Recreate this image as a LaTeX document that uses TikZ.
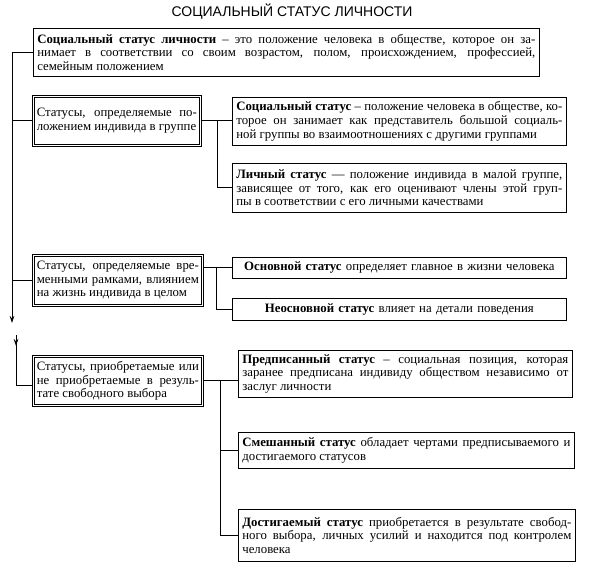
\documentclass[tikz,border=0pt]{standalone}
\usepackage{fontspec}
\setmainfont{Liberation Serif}
\newfontfamily\titlefont{Liberation Sans}
\usetikzlibrary{shadows,arrows.meta}
\newcommand\txtfont{\fontsize{12.8}{13.6}\selectfont\hyphenpenalty=10000\tolerance=9999\emergencystretch=20pt}
\begin{document}
\begin{tikzpicture}[x=1pt,y=-1pt,
  sbox/.style={draw, line width=0.7pt, fill=white, inner xsep=4pt, inner ysep=2pt,
    align=justify, font=\txtfont, anchor=north west,
    drop shadow={shadow xshift=0.9pt, shadow yshift=-0.9pt, fill=black, opacity=1}},
  dbox/.style={draw, double, double distance=1pt, line width=0.7pt, fill=white,
    inner xsep=3.5pt, inner ysep=2pt, align=justify, font=\txtfont, anchor=north west},
  link/.style={line width=0.8pt},
  arr/.style={link, -{Stealth[length=7pt,width=4.5pt]}},
  ttl/.style={font=\titlefont\fontsize{14}{16}\selectfont}
]
\useasboundingbox (0,0) rectangle (589,576);

\node[ttl] (title) at (292,12) {СОЦИАЛЬНЫЙ СТАТУС ЛИЧНОСТИ};

\node[sbox, text width=498, minimum height=48] (T) at (33,28)
 {\textbf{Социальный статус личности} -- это положение человека в обществе, которое он за-\linebreak{}нимает в соответствии со своим возрастом, полом, происхождением, профессией,\linebreak{} семейным положением};

\node[dbox, text width=160, minimum height=49] (A) at (33,96)
 {Статусы, определяемые по-\linebreak{}ложением индивида в группе};

\node[sbox, text width=326, minimum height=48] (B) at (232,97)
 {\textbf{Социальный статус} -- положение человека в обществе, ко-\linebreak{}торое он занимает как представитель большой социаль-\linebreak{}ной группы во взаимоотношениях с другими группами};

\node[sbox, text width=326, minimum height=49] (C) at (232,163)
 {\textbf{Личный статус} — положение индивида в малой группе,\linebreak{} зависящее от того, как его оценивают члены этой груп-\linebreak{}пы в соответствии с его личными качествами};

\node[dbox, text width=162, minimum height=50] (D) at (33,255)
 {Статусы, определяемые вре-\linebreak{}менными рамками, влиянием\linebreak{} на жизнь индивида в целом};

\node[sbox, text width=326, minimum height=21, align=center] (E) at (232,257)
 {\textbf{Основной статус} определяет главное в жизни человека};

\node[sbox, text width=326, minimum height=22, align=center] (F) at (232,298)
 {\textbf{Неосновной статус} влияет на детали поведения};

\node[dbox, text width=162, minimum height=49] (G) at (33,356)
 {Статусы, приобретаемые или\linebreak{} не приобретаемые в резуль-\linebreak{}тате свободного выбора};

\node[sbox, text width=326, minimum height=47] (H) at (238,350)
 {\textbf{Предписанный статус} -- социальная позиция, которая\linebreak{} заранее предписана индивиду обществом независимо от\linebreak{} заслуг личности};

\node[sbox, text width=328, minimum height=36] (I) at (238,432)
 {\textbf{Смешанный статус} обладает чертами предписываемого и\linebreak{} достигаемого статусов};

\node[sbox, text width=329, minimum height=52] (J) at (238,509)
 {\textbf{Достигаемый статус} приобретается в результате свобод-\linebreak{}ного выбора, личных усилий и находится под контролем\linebreak{} человека};

% trunk 1
\coordinate (t0) at (12,52);
\coordinate (t1) at (12,323);
\draw[arr] (T.west) -- (T.west -| t0) -- (t1);
\draw[link] (A.west) -- (A.west -| t0);
\draw[link] (D.west) -- (D.west -| t0);

% group A
\coordinate (jA) at (217,0);
\draw[link] (A.east) -- (B.west |- A.east);
\draw[link] (jA |- A.east) |- (C.west);

% group D
\coordinate (jD) at (216,0);
\draw[link] (D.east |- E.west) -- (E.west);
\draw[link] (jD |- E.west) |- (F.west);

% trunk 2
\coordinate (g0) at (16,335);
\coordinate (g1) at (16,346);
\draw[link] (g0) |- ([yshift=-5pt]G.west);
\draw[arr] (g0) -- (g1);

% group G
\coordinate (jG) at (220,0);
\draw[link] (G.east) -- (H.west |- G.east);
\draw[link] (jG |- G.east) |- (J.west);
\draw[link] (jG |- I.west) -- (I.west);
\end{tikzpicture}
\end{document}
